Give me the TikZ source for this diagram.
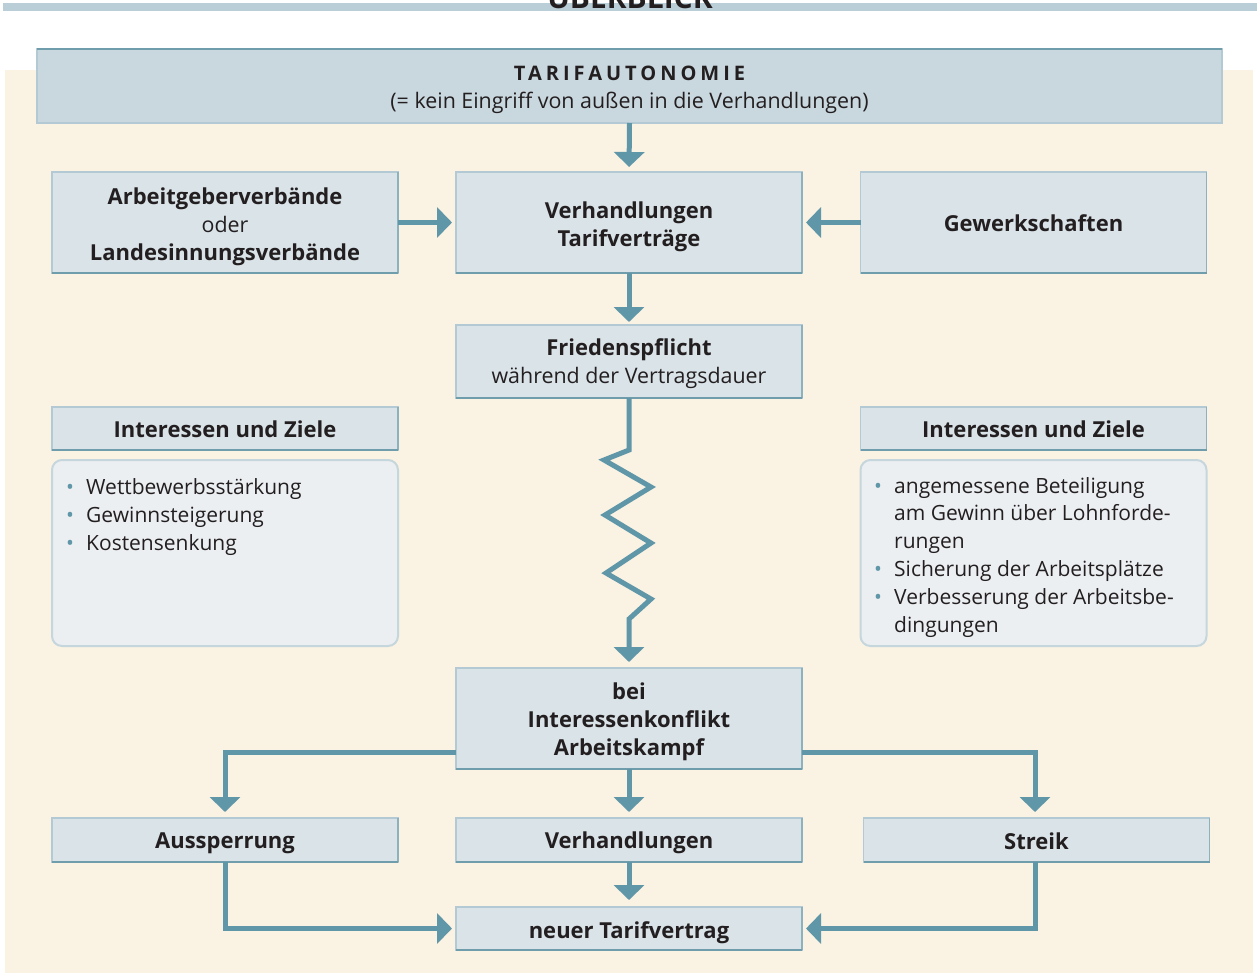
\documentclass[tikz,border=0pt]{standalone}
\usepackage{fontspec}
\setmainfont{Open Sans}
\usetikzlibrary{arrows.meta}
\definecolor{beige}{HTML}{FAF2E3}
\definecolor{boxfill}{HTML}{DAE3E8}
\definecolor{topfill}{HTML}{C9D7DE}
\definecolor{edgelight}{HTML}{B3CAD4}
\definecolor{edgemid}{HTML}{8DB2BF}
\definecolor{edgedark}{HTML}{6F9DAC}
\definecolor{arrowc}{HTML}{5F97A8}
\definecolor{listfill}{HTML}{ECEFF2}
\definecolor{listedge}{HTML}{C5D6DD}
\definecolor{txt}{HTML}{231F20}
\definecolor{barc}{HTML}{BACED7}
\newcommand\boldtxt{\fontsize{22}{28}\selectfont\bfseries}
\newcommand\regtxt{\fontsize{21.4}{28}\selectfont\mdseries}
\newcommand\listtxt{\fontsize{21}{27.8}\selectfont}
\newcommand\bul{\makebox[20pt][l]{\textcolor{arrowc}{•}}}
\newcommand\ind{\hspace*{20pt}}
\begin{document}
\begin{tikzpicture}[x=1pt,y=-1pt,
  bx/.style={rectangle, fill=boxfill, draw=edgelight, line width=1.5pt,
    inner sep=0pt, outer sep=0pt, minimum width=346pt},
  lb/.style={align=center, text=txt, font=\boldtxt, inner sep=0pt},
  topbx/.style={bx, fill=topfill, minimum width=1185pt, minimum height=74pt},
  listbx/.style={rectangle, rounded corners=10pt, fill=listfill, draw=listedge,
    line width=2pt, minimum width=346pt, minimum height=186pt, inner sep=0pt},
  listtext/.style={align=left, inner sep=0pt, text=txt, font=\listtxt},
  arr/.style={draw=arrowc, line width=5pt, -{Triangle[length=15pt,width=30pt]}},
]
\path[use as bounding box] (0,0) rectangle (1257,975);
\clip (0,0) rectangle (1257,975);
\fill[white] (0,0) rectangle (1257,975);
\fill[beige] (5,70) rectangle (1253,973);
\fill[barc] (3,3) rectangle (1257,11);
\node[font=\fontsize{30}{30}\selectfont\bfseries, anchor=base, text=txt, inner sep=0pt] (ueb) at (630,8) {ÜBERBLICK};

% boxes
\node[topbx, label={[lb, yshift=-4pt]center:{{\fontsize{20}{28}\selectfont\bfseries\addfontfeatures{LetterSpace=20}TARIFAUTONOMIE}\\{\regtxt (= kein Eingriff von außen in die Verhandlungen)}}}] (top) at (629.5,86) {};
\draw[edgedark, line width=2pt] (top.north west) -- (top.north east);

\node[bx, minimum height=101pt, label={[lb, yshift=-4pt]center:{Arbeitgeberverbände\\{\regtxt oder}\\Landesinnungsverbände}}] (arb) at (225,222.5) {};
\node[bx, minimum height=101pt, label={[lb, yshift=-4pt]center:{Verhandlungen\\Tarifverträge}}] (verh) at (629,222.5) {};
\node[bx, minimum height=101pt, label={[lb, yshift=-1pt]center:Gewerkschaften}] (gew) at (1033.5,222.5) {};
\node[bx, minimum height=73pt, label={[lb, yshift=-2pt]center:{Friedenspflicht\\{\regtxt während der Vertragsdauer}}}] (fried) at (629,361.5) {};
\node[bx, minimum height=43pt, label={[lb, yshift=-1pt]center:Interessen und Ziele}] (izl) at (225,428.5) {};
\node[bx, minimum height=43pt, label={[lb, yshift=-1pt]center:Interessen und Ziele}] (izr) at (1033.5,428.5) {};
\node[listbx] (listl) at (225,553) {};
\node[listbx] (listr) at (1033.5,553) {};
\node[bx, minimum height=101pt, label={[lb, yshift=-3pt]center:{bei\\Interessenkonflikt\\Arbeitskampf}}] (konf) at (629,718.5) {};
\node[bx, minimum height=44pt, label={[lb, yshift=-3pt]center:Aussperrung}] (aus) at (225,840) {};
\node[bx, minimum height=44pt, label={[lb, yshift=-3pt]center:Verhandlungen}] (verh2) at (629,840) {};
\node[bx, minimum height=44pt, label={[lb, yshift=-1pt]center:Streik}] (streik) at (1036.5,840) {};
\node[bx, minimum height=43pt, label={[lb, yshift=-4pt]center:neuer Tarifvertrag}] (neu) at (629,928.5) {};

\foreach \n in {arb,verh,gew,fried,izl,izr,konf,aus,verh2,streik,neu}{
  \draw[edgemid, line width=1.5pt] (\n.north east) -- (\n.south east);
  \draw[edgedark, line width=2pt] (\n.south west) -- (\n.south east);
}

% list texts
\node[listtext, anchor=base west] (ltl) at (66,550) {\bul Wettbewerbsstärkung\\\bul Gewinnsteigerung\\\bul Kostensenkung};
\node[listtext, anchor=base west] (ltr) at (874,632) {\bul angemessene Beteiligung\\\ind am Gewinn über Lohnforde-\\\ind rungen\\\bul Sicherung der Arbeitsplätze\\\bul Verbesserung der Arbeitsbe-\\\ind dingungen};

% connectors
\draw[arr, shorten >=5pt] (top.south) -- (verh.north);
\draw[arr, shorten >=4pt] (arb.east) -- (verh.west);
\draw[arr, shorten >=4pt] (gew.west) -- (verh.east);
\draw[arr, shorten >=3pt] (verh.south) -- (fried.north);
\draw[arr, shorten >=6pt] (fried.south) -- (629,450) -- (604,460) -- (651,487) -- (605,515) -- (651,543) -- (606,573) -- (651,599) -- (629,619) -- (konf.north);
\draw[arr, shorten >=6pt] ([yshift=-34pt]konf.west) -| (aus.north);
\draw[arr, shorten >=6pt] (konf.south) -- (verh2.north);
\draw[arr, shorten >=6pt] ([yshift=-34pt]konf.east) -| ([xshift=-1.5pt]streik.north);
\draw[arr, shorten >=7pt] (verh2.south) -- (neu.north);
\draw[arr, shorten >=4pt] (aus.south) |- (neu.west);
\draw[arr, shorten >=4pt] ([xshift=-1.5pt]streik.south) |- (neu.east);
\end{tikzpicture}
\end{document}
